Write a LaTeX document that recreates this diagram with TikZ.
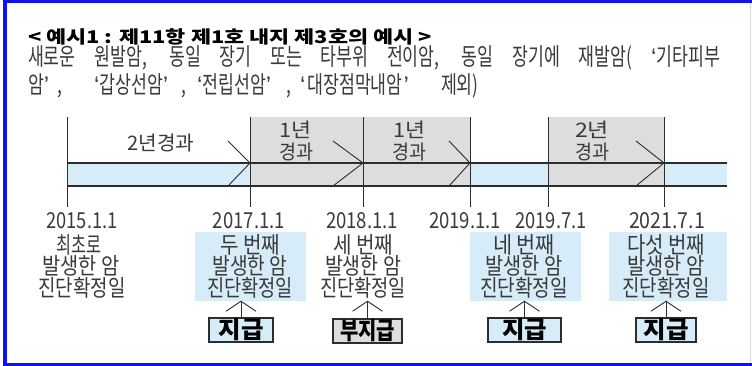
\documentclass[tikz,border=0pt]{standalone}
\usepackage{fontspec}
\usepackage{graphicx}
\usetikzlibrary{arrows.meta}
\setmainfont{Noto Sans CJK KR}
\newfontfamily\krbody[FakeStretch=0.72]{Noto Sans CJK KR}
\newfontfamily\latq{Liberation Sans}
\newcommand\myoq{{\latq ‘}}
\newcommand\mycq{{\latq ’}}
\newcommand\fitw[2]{\resizebox{#1}{\height}{#2}}
\definecolor{frameblue}{RGB}{18,18,240}
\definecolor{lband}{RGB}{214,236,248}
\definecolor{gbox}{RGB}{221,221,221}
\definecolor{ink}{RGB}{45,45,45}
\definecolor{txtc}{RGB}{58,58,58}
\definecolor{edge}{RGB}{215,215,232}
\tikzset{
  tx/.style={inner sep=0pt, outer sep=0pt, text=txtc},
  body/.style={tx, anchor=base west, font=\krbody\fontsize{24}{26}\selectfont},
  per/.style={tx, font=\fontsize{20}{22}\selectfont},
  datel/.style={tx, font=\fontsize{22}{24}\selectfont},
  desc/.style={tx, font=\fontsize{23}{25}\selectfont},
  dbox/.style={inner sep=0pt, minimum width=111pt, minimum height=69pt},
  paybox/.style={draw=ink, line width=1.6pt, inner sep=0pt, minimum height=24pt,
    text=black, font=\fontsize{24}{26}\selectfont\bfseries},
  tline/.style={draw=ink, line width=1.1pt},
  vline/.style={draw=ink, line width=1pt},
  chev/.style={draw=ink, line width=0.9pt},
  uparr/.style={draw=ink, line width=0.9pt, -{Straight Barb[length=10pt,width=30pt]}}
}
\begin{document}
\begin{tikzpicture}[x=1pt,y=-1pt]
\useasboundingbox (0,0) rectangle (752,366);
\fill[white] (0,0) rectangle (752,366);
% frame
\fill[frameblue] (2.7,0) rectangle (7.3,366);
\fill[frameblue] (2.7,0) rectangle (752,3);
\fill[frameblue] (2.7,363) rectangle (752,366);
\draw[edge, line width=1pt] (750.5,3) -- (750.5,363);

% header text
\node[tx, anchor=west, text=black, font=\fontsize{17.5}{20}\selectfont\bfseries] (title) at (28,37)
  {\fitw{404pt}{< 예시1 : 제11항 제1호 내지 제3호의 예시 >}};
% line 2 (justified)
\node[body] (line2) at (28,65.5)
  {\makebox[692pt][s]{새로운 원발암, 동일 장기 또는 타부위 전이암, 동일 장기에 재발암( \myoq 기타피부}};
% line 3
\node[body] (l3a) at (28,93.5) {암\mycq};
\node[body] (l3b) at (57,93.5) {,};
\node[body] (l3c) at (94,93.5) {\myoq 갑상선암\mycq};
\node[body] (l3d) at (181,93.5) {,};
\node[body] (l3e) at (197,93.5) {\myoq 전립선암\mycq};
\node[body] (l3f) at (286,93.5) {,};
\node[body] (l3g) at (300,93.5) {\myoq\hspace{2pt}대장점막내암\hspace{1pt}\mycq};
\node[body] (l3h) at (441,93.5) {제외)};

% timeline coordinates
\coordinate (t15) at (67,163);
\coordinate (t17) at (250,163);
\coordinate (t18) at (363,163);
\coordinate (t19a) at (470,163);
\coordinate (t19b) at (548,163);
\coordinate (t21) at (664,163);
\coordinate (tend) at (727,163);

% band and grey periods
\fill[lband] (67,163) rectangle (727,186);
\fill[gbox] (250,117) rectangle (470,186);
\fill[gbox] (548,117) rectangle (664,186);
\draw[tline] (t15) -- (tend);
\draw[tline] (67,186) -- (727,186);
\foreach \c in {t15,t17,t18,t19a,t19b,t21}{
  \draw[vline] (\c) ++(0,-46) -- ++(0,90);
}

% chevrons
\coordinate (c17u) at (228,141); \coordinate (c17d) at (228,186);
\coordinate (c18u) at (333,141); \coordinate (c18d) at (333,186);
\coordinate (c19u) at (449,141); \coordinate (c19d) at (449,186);
\coordinate (c21u) at (636,141); \coordinate (c21d) at (636,186);
\draw[chev] (c17u) -- (t17) -- (c17d);
\draw[chev] (c18u) -- (t18) -- (c18d);
\draw[chev] (c19u) -- (t19a) -- (c19d);
\draw[chev] (c21u) -- (t21) -- (c21d);

% period labels
\node[per] (p0) at (161,143) {\fitw{67pt}{2년경과}};
\node[per] (p1a) at (295,130) {\fitw{32pt}{1년}};
\node[per] (p1b) at (296,152) {\fitw{34pt}{경과}};
\node[per] (p2a) at (409,130) {\fitw{32pt}{1년}};
\node[per] (p2b) at (409,152) {\fitw{34pt}{경과}};
\node[per] (p3a) at (592,130) {\fitw{34pt}{2년}};
\node[per] (p3b) at (592,152) {\fitw{34pt}{경과}};

% dates
\node[datel] (d15) at (82,221) {\fitw{71pt}{2015.1.1}};
\node[datel] (d17) at (249,221) {\fitw{72pt}{2017.1.1}};
\node[datel] (d18) at (362,221) {\fitw{72pt}{2018.1.1}};
\node[datel] (d19a) at (465,221) {\fitw{72pt}{2019.1.1}};
\node[datel] (d19b) at (551,221) {\fitw{71pt}{2019.7.1}};
\node[datel] (d21) at (667,221) {\fitw{76pt}{2021.7.1}};

% description boxes
\node[dbox] (b1) at (81,266) {};
\node[dbox, fill=lband] (b2) at (250.5,266) {};
\node[dbox] (b3) at (363,266) {};
\node[dbox, fill=lband] (b4) at (525.5,266) {};
\node[dbox, fill=lband, minimum width=118pt] (b5) at (668,266) {};

\node[desc] (b1a) at (79,245) {\fitw{45pt}{최초로}};
\node[desc] (b1b) at (81,266) {\fitw{77pt}{발생한 암}};
\node[desc] (b1c) at (82,287.5) {\fitw{87pt}{진단확정일}};
\node[desc] (b2a) at (250,245) {\fitw{60pt}{두 번째}};
\node[desc] (b2b) at (250,266) {\fitw{75pt}{발생한 암}};
\node[desc] (b2c) at (250,287.5) {\fitw{86pt}{진단확정일}};
\node[desc] (b3a) at (363,245) {\fitw{60pt}{세 번째}};
\node[desc] (b3b) at (363,266) {\fitw{76pt}{발생한 암}};
\node[desc] (b3c) at (363,287.5) {\fitw{86pt}{진단확정일}};
\node[desc] (b4a) at (524,245) {\fitw{62pt}{네 번째}};
\node[desc] (b4b) at (524,266) {\fitw{77pt}{발생한 암}};
\node[desc] (b4c) at (524,287.5) {\fitw{88pt}{진단확정일}};
\node[desc] (b5a) at (666,245) {\fitw{78pt}{다섯 번째}};
\node[desc] (b5b) at (666,266) {\fitw{77pt}{발생한 암}};
\node[desc] (b5c) at (666,287.5) {\fitw{87pt}{진단확정일}};

% payment boxes
\node[paybox, fill=lband, minimum width=64pt] (pay1) at (241,330) {\fitw{45pt}{지급}};
\node[paybox, fill=gbox, minimum width=69pt] (pay2) at (367.5,331) {\fitw{55pt}{부지급}};
\node[paybox, fill=lband, minimum width=73pt] (pay3) at (524.5,330) {\fitw{45pt}{지급}};
\node[paybox, fill=lband, minimum width=60pt] (pay4) at (666,330) {\fitw{45pt}{지급}};

\draw[uparr] (pay1.north) -- (pay1.north |- b2.south);
\draw[uparr] (pay2.north) -- (pay2.north |- b3.south);
\draw[uparr] (pay3.north) -- (pay3.north |- b4.south);
\draw[uparr] (pay4.north) -- (pay4.north |- b5.south);
\end{tikzpicture}
\end{document}
